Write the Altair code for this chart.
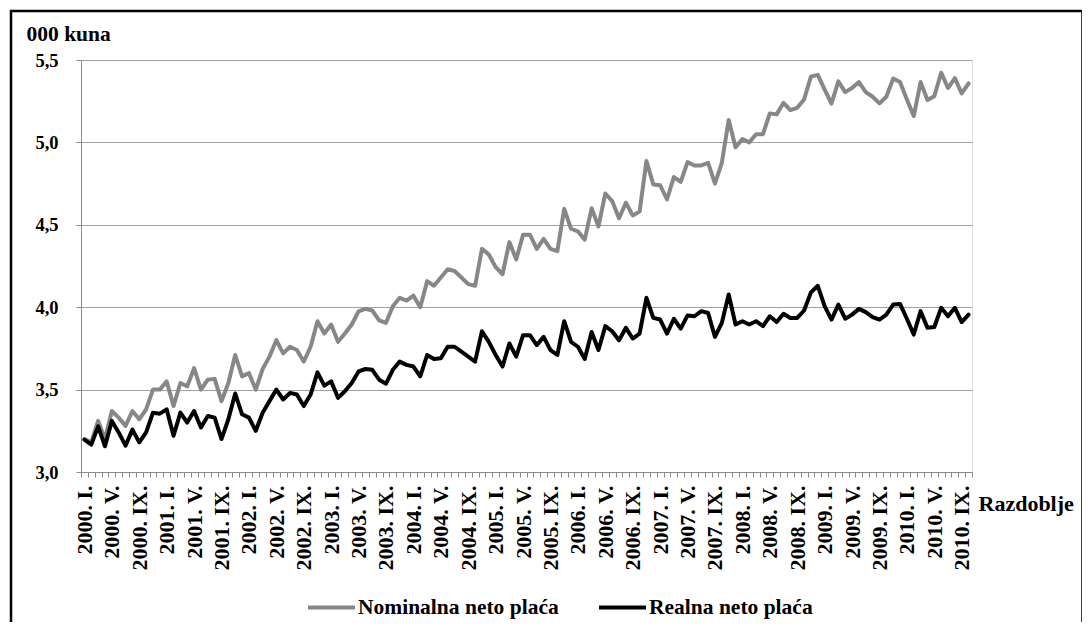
import altair as alt
import pandas as pd

years = list(range(2000, 2011))
roman = ["I", "II", "III", "IV", "V", "VI", "VII", "VIII", "IX", "X", "XI", "XII"]
months = [f"{y}. {r}." for y in years for r in roman][:130]

nominal = [
    3.20, 3.18, 3.31, 3.20, 3.37, 3.33, 3.28, 3.37, 3.32, 3.38,
    3.50, 3.50, 3.55, 3.40, 3.54, 3.52, 3.63, 3.50, 3.56, 3.565,
    3.43, 3.54, 3.71, 3.58, 3.60, 3.50, 3.625, 3.70, 3.80, 3.72,
    3.76, 3.74, 3.67, 3.76, 3.915, 3.84, 3.895, 3.79, 3.84, 3.895,
    3.975, 3.99, 3.98, 3.92, 3.905, 4.006, 4.057, 4.04, 4.07, 4.00,
    4.158, 4.13, 4.18, 4.23, 4.22, 4.18, 4.14, 4.13, 4.354, 4.32,
    4.243, 4.20, 4.395, 4.29, 4.44, 4.44, 4.354, 4.415, 4.354, 4.34,
    4.597, 4.476, 4.46, 4.41, 4.60, 4.49, 4.69, 4.644, 4.54, 4.634,
    4.557, 4.58, 4.887, 4.745, 4.74, 4.654, 4.79, 4.76, 4.88, 4.86,
    4.86, 4.876, 4.75, 4.876, 5.136, 4.97, 5.02, 5.00, 5.05, 5.05,
    5.176, 5.17, 5.24, 5.196, 5.21, 5.26, 5.40, 5.41, 5.32, 5.236,
    5.37, 5.305, 5.33, 5.366, 5.305, 5.277, 5.237, 5.277, 5.387, 5.366,
    5.26, 5.16, 5.366, 5.257, 5.28, 5.423, 5.33, 5.39, 5.297, 5.358,
]

real = [
    3.196, 3.166, 3.277, 3.156, 3.31, 3.24, 3.16, 3.257, 3.18, 3.24,
    3.36, 3.354, 3.38, 3.22, 3.36, 3.30, 3.37, 3.27, 3.34, 3.33,
    3.20, 3.32, 3.476, 3.35, 3.33, 3.25, 3.36, 3.43, 3.50, 3.44,
    3.48, 3.47, 3.40, 3.47, 3.605, 3.524, 3.55, 3.45, 3.49, 3.54,
    3.61, 3.625, 3.62, 3.56, 3.536, 3.62, 3.67, 3.65, 3.64, 3.58,
    3.71, 3.686, 3.69, 3.76, 3.76, 3.73, 3.70, 3.67, 3.854, 3.79,
    3.71, 3.64, 3.78, 3.70, 3.83, 3.83, 3.77, 3.82, 3.74, 3.71,
    3.915, 3.79, 3.76, 3.686, 3.85, 3.74, 3.885, 3.854, 3.80, 3.875,
    3.81, 3.84, 4.057, 3.935, 3.925, 3.84, 3.93, 3.87, 3.95, 3.945,
    3.976, 3.965, 3.82, 3.905, 4.077, 3.895, 3.915, 3.895, 3.915, 3.885,
    3.945, 3.91, 3.96, 3.935, 3.935, 3.98, 4.09, 4.13, 4.006, 3.925,
    4.016, 3.93, 3.955, 3.99, 3.97, 3.94, 3.925, 3.955, 4.016, 4.02,
    3.93, 3.834, 3.976, 3.875, 3.88, 3.996, 3.945, 3.996, 3.91, 3.955,
]

series_names = ["Nominalna neto plaća", "Realna neto plaća"]
series_colors = ["#878787", "#000000"]
y_ticks = [3.0, 3.5, 4.0, 4.5, 5.0, 5.5]

df = pd.concat([
    pd.DataFrame({"month": months, "value": nominal, "series": series_names[0]}),
    pd.DataFrame({"month": months, "value": real, "series": series_names[1]}),
])

FONT = "Liberation Serif"

lines = alt.Chart(df).mark_line(strokeWidth=4, strokeJoin="round", strokeCap="round").encode(
    x=alt.X(
        "month:N",
        sort=months,
        bandPosition=0.5,
        scale=alt.Scale(type="band", paddingInner=0, paddingOuter=0),
        axis=alt.Axis(
            title="Razdoblje",
            titleAngle=0,
            titleAlign="left",
            titleBaseline="alphabetic",
            titleX=897,
            titleY=38,
            titleFont=FONT,
            titleFontSize=22,
            titleFontWeight="bold",
            titleColor="black",
            labelExpr="test(/\\. (I|V|IX)\\.$/, datum.label) ? datum.label : ''",
            labelAngle=270,
            labelFont=FONT,
            labelFontSize=22,
            labelFontWeight="bold",
            labelColor="black",
            labelPadding=8,
            labelOverlap=False,
            labelBound=False,
            tickBand="extent",
            tickSize=5,
            tickColor="#8a8a8a",
            domainColor="#8a8a8a",
            grid=False,
        ),
    ),
    y=alt.Y(
        "value:Q",
        scale=alt.Scale(domain=[3.0, 5.5], nice=False, zero=False),
        axis=alt.Axis(
            title="000 kuna",
            titleAngle=0,
            titleAlign="left",
            titleBaseline="alphabetic",
            titleX=-55,
            titleY=-20,
            titleFont=FONT,
            titleFontSize=21.5,
            titleFontWeight="bold",
            titleColor="black",
            values=y_ticks,
            labelExpr="replace(format(datum.value, '.1f'), '.', ',')",
            labelFont=FONT,
            labelFontSize=18.5,
            labelFontWeight="bold",
            labelColor="black",
            labelPadding=18,
            tickSize=5,
            tickColor="#8a8a8a",
            domainColor="#8a8a8a",
            gridColor="#a0a0a0",
            gridWidth=1,
        ),
    ),
    color=alt.Color(
        "series:N",
        sort=series_names,
        scale=alt.Scale(domain=series_names, range=series_colors),
        legend=alt.Legend(
            title=None,
            orient="none",
            direction="horizontal",
            legendX=225,
            legendY=522,
            symbolType="stroke",
            symbolSize=2209,
            symbolStrokeWidth=4,
            labelFont=FONT,
            labelFontSize=21.5,
            labelFontWeight="bold",
            labelColor="black",
            labelLimit=0,
            labelOffset=1,
            columnPadding=32,
        ),
    ),
)

frame = alt.Chart(pd.DataFrame({"a": [0]})).mark_rect(
    filled=False, stroke="black", strokeWidth=2.5
).encode(
    x=alt.value(-70), x2=alt.value(1001.5), y=alt.value(-49), y2=alt.value(700)
)

chart = alt.layer(frame, lines).properties(
    width=891,
    height=412,
    autosize=alt.AutoSizeParams(type="none"),
    padding={"left": 73, "top": 52, "right": 110, "bottom": 150},
).configure_view(stroke="#6a6a6a", strokeWidth=1).configure(background="white")

chart.save("out.html", embed_options={"renderer": "svg", "actions": False})
